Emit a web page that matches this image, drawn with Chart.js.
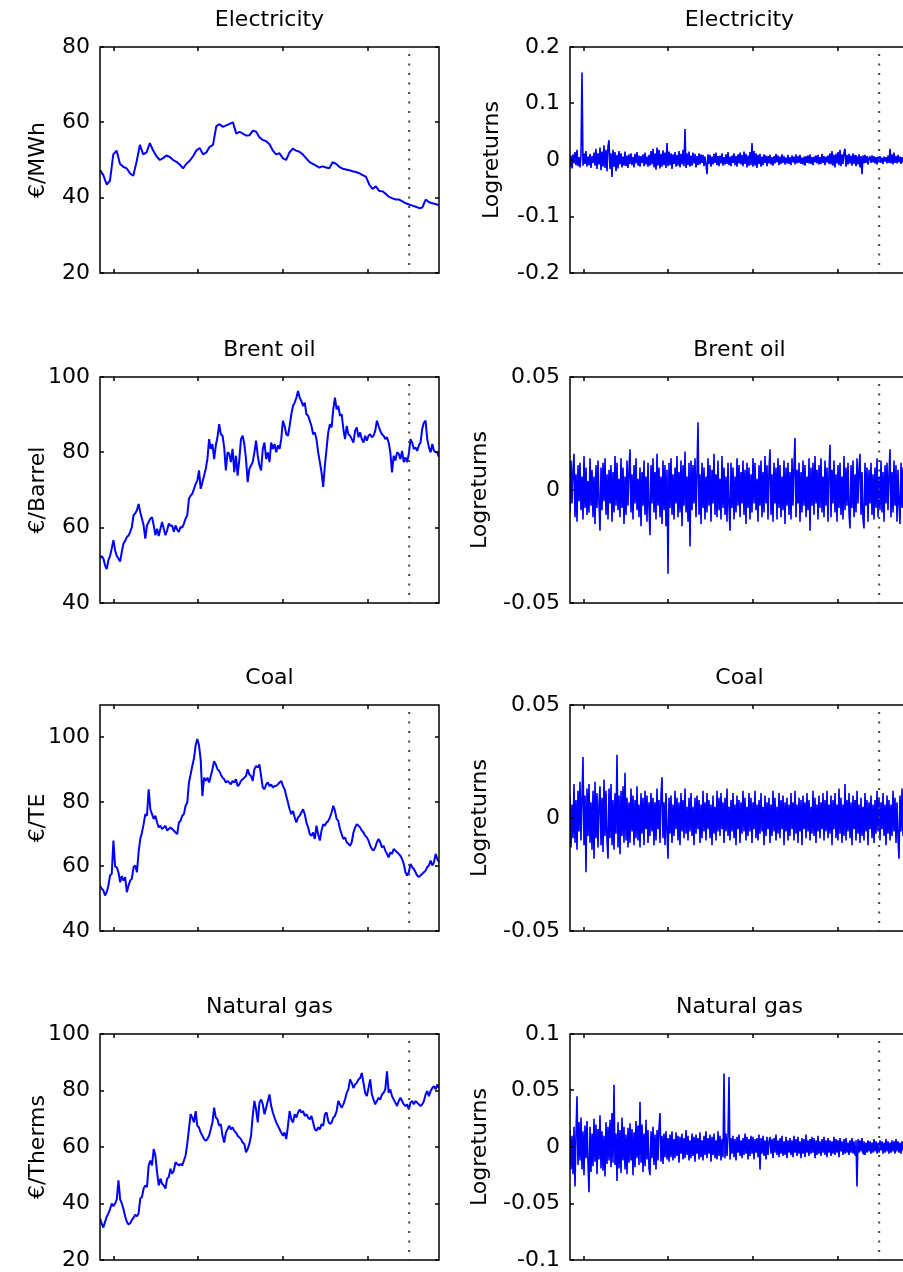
<!DOCTYPE html>
<html><head><meta charset="utf-8">
<script src="https://cdn.jsdelivr.net/npm/chart.js@4.4.1/dist/chart.umd.min.js"></script>
<style>
html,body{margin:0;padding:0;background:#fff;overflow:hidden;width:903px;height:1272px;}
.p{position:absolute;}
</style></head><body>
<script>
// ---------------- data ----------------
const xMin = 0, xMax = 1000;           // observation index range
const xTicks = [42, 290, 540, 790];    // unlabeled x tick positions
const splitT = 912;                    // in-sample / out-of-sample split (dotted line)

const titles = ['Electricity', 'Brent oil', 'Coal', 'Natural gas'];
const priceUnits = ['€/MWh', '€/Barrel', '€/TE', '€/Therms'];
const returnsLabel = 'Logreturns';

const elecPrice = [47.3,46.0,43.5,44.5,51.5,52.5,49.0,48.2,47.8,46.5,45.8,49.5,54.0,51.5,52.0,54.5,52.5,51.0,50.0,50.5,51.2,50.8,50.0,49.5,48.8,47.8,49.0,49.8,51.0,52.5,53.2,51.5,52.0,53.5,54.0,59.0,59.5,58.8,59.2,59.6,60.0,57.0,57.5,57.0,56.5,56.6,57.8,57.5,56.0,55.3,55.0,54.2,52.5,51.5,51.8,50.5,50.0,52.0,53.0,52.5,52.2,51.5,50.5,49.5,49.0,48.5,48.0,48.3,48.0,47.8,49.4,49.0,48.2,47.7,47.5,47.3,47.0,46.8,46.5,46.0,45.6,43.5,42.3,43.0,41.8,41.7,41.0,40.2,39.8,39.5,39.5,39.0,38.5,38.2,37.9,37.6,37.2,37.4,39.5,38.8,38.5,38.3,38.0];

const brentPrice = [51.8,52.5,51.8,50.0,49.0,51.4,52.5,54.5,56.7,54.0,52.5,51.8,51.0,53.6,55.8,56.5,57.5,57.9,58.9,60.2,63.3,63.8,64.6,66.3,64.1,62.4,60.6,57.1,60.6,61.5,62.4,62.8,60.6,58.0,59.7,57.8,59.7,61.5,59.7,58.0,59.3,61.1,60.5,60.6,58.9,60.6,59.5,58.9,60.2,60.0,61.1,62.4,63.3,67.7,68.5,69.0,70.3,71.6,72.5,75.2,70.3,72.0,73.8,75.6,78.2,83.5,80.9,82.2,78.2,81.8,84.0,87.5,84.8,84.4,81.3,75.2,80.0,79.6,77.4,80.9,74.7,79.1,73.8,78.0,83.5,84.4,82.2,78.2,72.1,75.6,76.5,77.4,80.0,83.1,79.1,76.5,75.2,80.9,82.6,78.2,80.0,77.4,82.6,80.9,82.2,80.0,81.8,80.9,83.5,88.4,87.0,84.8,84.4,87.0,90.1,92.3,93.2,94.5,96.3,94.5,93.6,92.3,93.2,90.1,89.7,88.4,87.0,84.8,85.3,83.5,80.0,77.4,74.7,70.8,76.5,80.9,85.3,87.5,86.6,91.4,94.5,91.4,92.3,89.7,90.1,86.2,83.5,87.0,84.8,84.4,83.5,82.6,85.7,86.6,84.0,85.3,83.5,82.6,84.4,83.1,84.4,84.8,84.0,84.4,85.7,88.4,87.0,85.7,84.8,84.4,83.5,84.0,82.6,80.0,74.7,79.1,77.8,80.0,79.6,78.2,80.4,77.4,78.7,77.4,79.6,83.5,82.6,80.9,81.3,80.4,81.8,82.6,86.2,87.9,88.4,83.5,81.3,80.0,82.2,80.4,80.0,80.0,78.7];

const coalPrice = [54.0,53.1,52.6,51.0,52.0,54.1,57.2,57.7,68.0,60.0,59.7,58.2,55.1,57.0,55.6,56.7,52.0,54.1,55.6,56.2,59.8,60.3,58.2,64.4,68.5,70.5,73.1,76.2,75.7,83.9,77.7,76.2,74.7,75.7,73.6,72.1,72.6,71.6,72.1,72.6,71.1,71.6,72.1,71.6,71.1,70.5,70.0,73.6,74.1,75.7,76.2,78.8,79.8,86.0,88.5,91.1,93.5,97.5,99.5,97.5,93.0,81.8,87.5,86.5,87.5,86.0,88.0,90.1,92.6,91.6,90.1,89.6,88.5,87.5,87.0,86.0,86.5,86.0,85.4,86.5,86.0,87.0,84.9,85.4,86.5,87.0,87.5,88.0,90.1,88.5,88.0,86.5,90.1,91.1,90.6,91.6,88.0,84.4,83.9,85.4,86.0,
84.9,85.4,84.4,84.9,85.0,85.4,86.0,86.5,84.9,83.9,81.8,79.8,77.7,76.2,77.2,75.2,73.6,75.2,75.7,76.7,77.7,76.2,73.6,72.1,70.0,69.5,70.5,68.5,72.6,70.0,68.0,71.1,73.1,72.6,73.6,74.1,75.2,76.7,78.8,77.2,74.7,74.1,71.6,70.0,68.5,69.0,67.5,67.0,66.4,67.5,70.5,72.1,73.1,72.6,72.1,71.1,70.5,69.5,69.0,68.0,66.4,65.4,64.9,65.9,67.5,68.5,67.5,65.9,66.4,64.9,63.9,62.8,64.4,63.9,65.4,64.9,64.4,63.9,63.3,62.3,60.8,58.2,57.2,58.2,60.8,59.8,59.2,58.2,57.2,56.7,57.2,57.7,58.2,58.7,59.8,60.3,61.8,60.3,61.3,63.9,62.3,61.3];

const gasPrice = [34.8,33.0,31.5,33.5,35.3,36.5,38.0,40.0,39.0,40.0,41.5,48.2,41.5,40.0,38.0,35.5,33.5,32.6,33.0,34.2,35.0,36.0,35.5,36.5,41.8,42.3,45.3,46.4,45.8,53.5,55.2,53.5,59.3,57.0,51.1,46.4,48.8,47.0,46.4,45.3,48.8,49.4,52.3,50.5,51.7,54.6,54.0,53.5,54.0,53.5,55.2,57.0,61.1,66.3,71.6,70.4,68.7,72.7,67.5,66.9,65.1,64.0,62.8,62.2,62.8,64.0,66.3,68.7,73.9,70.4,69.8,67.5,68.1,64.0,61.6,65.1,66.3,67.5,66.3,66.9,65.7,65.1,64.0,63.4,62.8,61.6,61.1,58.1,59.3,61.1,64.0,71.0,76.3,73.3,68.7,75.7,76.8,75.1,71.6,73.9,76.3,
78.6,74.5,72.2,70.4,68.7,67.5,66.3,65.1,64.0,65.1,62.8,67.5,72.7,69.8,68.7,71.6,70.4,72.2,73.3,72.2,72.7,71.0,71.6,70.4,69.8,71.0,68.7,66.3,65.7,66.9,66.3,68.1,67.5,71.6,72.2,69.2,68.1,68.7,70.4,71.0,72.7,76.3,75.1,73.9,75.1,76.8,79.2,80.4,83.9,82.7,80.9,82.1,82.7,83.9,84.4,86.2,82.7,79.2,78.0,80.9,83.9,78.6,76.8,75.1,76.3,77.4,76.8,78.6,79.2,80.4,86.8,79.2,80.4,78.0,76.8,75.7,74.5,76.3,77.4,76.3,75.1,74.5,75.1,73.3,75.7,76.3,75.1,76.3,75.7,75.1,74.5,75.1,76.3,78.6,79.8,78.0,79.8,80.9,81.5,80.4,82.1,80.9];

const elecRet = [
-0.012,0.008,-0.015,0.010,-0.006,0.014,-0.009,0.018,-0.011,0.005,-0.013,0.009,0.155,-0.010,0.012,-0.007,0.016,-0.012,0.006,-0.009,
0.011,-0.014,0.007,-0.005,0.013,-0.010,0.020,-0.016,0.012,-0.008,0.022,-0.018,0.015,-0.012,0.026,-0.014,0.018,-0.020,0.024,0.035,
-0.016,0.012,-0.030,0.018,-0.012,0.014,-0.020,0.009,-0.015,0.016,-0.008,0.012,-0.013,0.006,-0.010,0.015,-0.011,0.008,-0.014,0.010,
-0.007,0.012,-0.009,0.005,-0.013,0.011,-0.006,0.014,-0.010,0.008,-0.012,0.007,-0.005,0.010,-0.011,0.013,-0.008,0.006,-0.012,0.009,
-0.010,0.016,-0.008,0.020,-0.013,0.012,-0.017,0.022,-0.010,0.018,-0.015,0.011,-0.012,0.017,-0.009,0.013,-0.014,0.030,-0.011,0.015,
-0.009,0.012,-0.016,0.010,-0.007,0.014,-0.012,0.009,-0.010,0.016,-0.013,0.011,-0.008,0.018,-0.011,0.055,-0.014,0.012,-0.009,0.015,
-0.012,0.008,-0.010,0.013,-0.006,0.011,-0.013,0.007,-0.009,0.012,-0.008,0.010,-0.005,0.009,-0.011,0.006,-0.008,-0.025,0.010,-0.007,
0.009,-0.012,0.006,-0.008,0.011,-0.005,0.013,-0.009,0.007,-0.011,0.008,-0.006,0.012,-0.010,0.005,-0.008,0.010,-0.007,0.014,-0.009,
0.006,-0.011,0.008,-0.005,0.012,-0.009,0.007,-0.012,0.010,-0.006,0.013,-0.008,0.009,-0.011,0.015,-0.007,0.011,-0.013,0.008,-0.010,
0.014,-0.009,0.030,-0.012,0.016,-0.010,0.012,-0.014,0.009,-0.007,0.011,-0.012,0.006,-0.009,0.010,-0.005,0.008,-0.011,0.007,-0.006,
0.009,-0.008,0.005,-0.010,0.007,-0.006,0.011,-0.004,0.008,-0.009,0.006,-0.007,0.010,-0.005,0.007,-0.008,0.004,-0.006,0.009,-0.007,
0.005,-0.009,0.008,-0.004,0.006,-0.008,0.010,-0.006,0.007,-0.005,0.009,-0.007,0.004,-0.008,0.006,-0.010,0.007,-0.005,0.008,-0.006,
0.010,-0.007,0.005,-0.009,0.006,-0.004,0.008,-0.006,0.009,-0.008,0.005,-0.007,0.011,-0.005,0.007,-0.009,0.006,-0.004,0.008,-0.007,
0.012,-0.008,0.016,-0.010,0.009,-0.013,0.011,-0.006,0.014,-0.009,0.018,-0.011,0.010,-0.007,0.013,0.020,-0.012,0.009,-0.008,0.011,
-0.006,0.008,-0.010,0.012,-0.007,0.009,-0.011,0.006,-0.008,0.010,-0.013,0.007,-0.025,0.008,-0.006,0.009,-0.005,0.007,-0.008,0.004,
0.006,-0.005,0.008,-0.004,0.007,-0.006,0.005,-0.008,0.006,-0.004,0.007,-0.005,0.004,-0.007,0.006,-0.003,0.005,-0.006,0.008,-0.005,
0.020,-0.006,0.010,-0.008,0.013,-0.005,0.007,-0.006,0.009,-0.004,0.006,-0.007,0.005,-0.004,0.006,-0.005,0.007,-0.006,0.004,-0.005];

const brentRet = [
-0.010,0.013,-0.006,0.009,0.016,-0.012,0.007,-0.014,0.011,-0.005,0.012,-0.009,0.006,-0.013,0.015,-0.008,0.010,-0.011,0.004,-0.010,
0.014,-0.007,0.009,-0.012,0.006,-0.015,0.011,-0.008,0.013,-0.006,-0.018,0.010,-0.009,0.012,-0.005,0.014,-0.011,0.007,-0.013,0.009,
-0.006,0.011,-0.014,0.008,-0.010,0.015,-0.007,0.012,-0.009,0.005,-0.012,0.014,-0.008,0.010,-0.015,0.006,-0.011,0.013,-0.007,0.009,
0.018,-0.010,0.007,-0.013,0.011,-0.006,0.014,-0.009,0.005,-0.012,0.010,-0.016,0.008,-0.007,0.013,-0.011,0.006,-0.014,0.012,-0.008,
-0.020,0.011,-0.006,0.014,-0.010,0.008,-0.013,0.016,-0.007,0.010,-0.012,0.006,-0.015,0.013,-0.009,0.011,-0.016,0.009,-0.037,0.012,
-0.008,0.014,-0.011,0.007,-0.013,0.010,-0.006,0.015,-0.012,0.008,-0.010,0.013,-0.016,0.011,-0.007,0.017,-0.010,0.006,-0.014,0.012,
-0.025,0.013,-0.009,0.011,-0.006,0.014,-0.012,0.008,0.030,-0.011,0.007,-0.015,0.012,-0.008,0.010,-0.013,0.006,-0.010,0.014,-0.007,
0.011,-0.014,0.009,-0.006,0.016,-0.011,0.007,-0.012,0.013,-0.009,0.005,-0.013,0.015,-0.008,0.010,-0.011,0.006,-0.014,0.012,-0.007,
-0.018,0.012,-0.008,0.010,-0.013,0.006,-0.010,0.014,-0.007,0.011,-0.012,0.008,-0.006,0.013,-0.011,0.009,-0.015,0.012,-0.008,0.010,
-0.013,0.007,-0.010,0.014,-0.006,0.012,-0.009,0.005,-0.014,0.011,-0.007,0.013,-0.012,0.008,-0.010,0.015,-0.006,0.011,-0.013,0.009,
0.018,-0.011,0.007,-0.014,0.012,-0.006,0.010,-0.013,0.014,-0.008,0.011,-0.012,0.006,-0.009,0.013,-0.015,0.010,-0.007,0.012,-0.011,
0.008,-0.013,0.014,-0.007,0.011,0.023,-0.012,0.009,-0.006,0.012,-0.014,0.008,-0.010,0.013,-0.007,0.011,-0.012,0.006,-0.009,0.014,
-0.018,0.010,-0.007,0.012,-0.011,0.015,-0.006,0.009,-0.013,0.011,-0.008,0.014,-0.010,0.006,-0.012,0.013,-0.007,0.010,-0.014,0.008,
0.020,-0.012,0.009,-0.006,0.013,-0.010,0.007,-0.014,0.011,-0.008,0.012,-0.011,0.006,-0.013,0.015,-0.009,0.010,-0.007,0.012,-0.010,
-0.017,0.011,-0.008,0.013,-0.012,0.007,-0.010,0.014,-0.006,0.009,0.016,-0.011,0.008,-0.013,-0.017,0.012,-0.007,0.010,-0.014,0.009,
-0.006,0.012,-0.011,0.007,-0.013,0.010,-0.008,0.014,-0.012,0.006,-0.009,0.013,-0.010,0.008,-0.014,0.011,-0.006,0.012,-0.009,0.007,
0.018,-0.012,0.008,-0.010,0.013,-0.007,0.011,-0.014,0.009,-0.006,-0.015,0.012,-0.008,0.010,-0.013,0.007,-0.011,0.014,-0.006,0.009];

const coalRet = [
0.010,-0.013,0.006,-0.009,0.015,-0.011,0.008,-0.014,0.012,-0.006,0.016,-0.010,0.009,0.027,-0.012,0.010,-0.024,0.013,-0.008,0.015,
-0.011,0.007,-0.014,0.012,-0.018,0.016,-0.009,0.011,-0.013,0.006,0.014,-0.012,0.009,-0.015,0.017,-0.008,0.012,-0.010,-0.018,0.013,
-0.009,0.015,-0.012,0.008,-0.014,0.011,-0.007,0.028,-0.013,0.010,-0.016,0.012,-0.008,0.014,-0.011,0.020,-0.010,0.009,-0.013,0.007,
-0.011,0.013,-0.006,0.010,-0.012,0.008,-0.009,0.014,-0.010,0.006,-0.013,0.011,-0.007,0.009,-0.012,0.012,-0.005,0.010,-0.011,0.007,
-0.008,0.011,-0.006,0.009,-0.012,0.007,-0.010,0.013,-0.005,0.008,-0.011,0.010,0.018,-0.009,0.007,-0.012,0.011,-0.006,-0.018,0.009,
-0.007,0.010,-0.011,0.006,-0.008,0.012,-0.005,0.009,-0.010,0.007,-0.012,0.011,-0.006,0.008,-0.009,0.013,-0.007,0.005,-0.010,0.009,
-0.006,0.011,-0.008,0.005,-0.012,0.009,-0.007,0.010,-0.005,0.008,-0.011,0.006,-0.009,0.012,-0.006,0.007,-0.010,0.011,-0.005,0.008,
-0.009,0.006,-0.012,0.010,-0.007,0.005,-0.010,0.012,-0.006,0.009,-0.008,0.011,-0.005,0.007,-0.011,0.009,-0.006,0.013,-0.008,0.005,
-0.010,0.008,-0.006,0.011,-0.009,0.006,-0.012,0.010,-0.005,0.008,-0.011,0.007,-0.007,0.012,-0.006,0.009,-0.010,0.005,-0.008,0.011,
-0.006,0.009,-0.011,0.007,-0.005,0.012,-0.009,0.006,-0.010,0.008,-0.007,0.011,-0.006,0.005,-0.012,0.010,-0.008,0.007,-0.005,0.009,
-0.011,0.006,-0.008,0.012,-0.006,0.009,-0.010,0.005,-0.007,0.011,-0.009,0.008,-0.005,0.010,-0.012,0.007,-0.006,0.009,-0.010,0.006,
-0.008,0.011,-0.005,0.007,-0.010,0.012,-0.007,0.006,-0.011,0.009,-0.006,0.008,-0.012,0.010,-0.005,0.007,-0.009,0.011,-0.006,0.008,
-0.010,0.005,-0.007,0.012,-0.008,0.009,-0.011,0.006,-0.006,0.010,-0.009,0.007,-0.005,0.011,-0.010,0.008,-0.006,0.012,-0.009,0.006,
-0.007,0.010,-0.012,0.008,-0.005,0.011,-0.009,0.006,-0.010,0.013,-0.007,0.009,-0.011,0.006,-0.008,0.015,-0.010,0.008,-0.006,0.011,
-0.009,0.007,-0.012,0.010,-0.005,0.008,-0.010,0.012,-0.007,0.006,-0.011,0.009,-0.008,0.005,-0.010,0.011,-0.006,0.008,-0.012,0.007,
-0.005,0.010,-0.009,0.006,-0.011,0.008,-0.007,0.012,-0.006,0.009,-0.010,0.007,-0.005,0.011,-0.008,0.006,-0.012,0.010,-0.007,0.008,
-0.010,0.006,-0.008,0.012,-0.006,0.009,-0.011,0.007,-0.009,-0.018,0.010,-0.006,0.013,-0.008,0.007,-0.011,0.009,-0.005,0.012,-0.008];

const gasRet = [
0.015,-0.020,0.010,-0.024,0.018,-0.035,0.012,0.045,-0.016,0.022,-0.012,0.026,-0.020,0.014,-0.025,0.019,-0.010,0.023,-0.015,-0.040,
0.018,-0.022,0.012,-0.017,0.025,-0.013,0.020,-0.024,0.016,-0.011,0.028,-0.019,0.014,-0.021,0.010,-0.026,0.022,-0.015,0.018,-0.012,
0.024,-0.018,0.030,-0.014,0.055,-0.016,0.012,-0.030,0.022,-0.019,0.015,-0.023,0.026,-0.012,0.018,-0.020,0.011,-0.024,0.017,-0.014,
0.021,-0.012,0.016,-0.025,0.013,-0.018,0.023,-0.010,0.019,-0.016,0.040,-0.014,0.020,-0.022,0.012,-0.017,0.024,-0.011,0.015,-0.019,
-0.025,0.014,-0.010,0.018,-0.016,0.011,-0.020,0.015,-0.012,0.017,0.030,-0.013,0.010,-0.015,0.012,-0.009,0.014,-0.011,0.008,-0.013,
0.011,-0.009,0.014,-0.012,0.007,-0.010,0.013,-0.008,0.010,-0.014,0.009,-0.006,0.012,-0.011,0.008,-0.010,0.015,-0.007,0.010,-0.012,
0.006,-0.010,0.012,-0.008,0.009,-0.013,0.011,-0.006,0.008,-0.011,0.013,-0.009,0.006,-0.012,0.010,-0.007,0.014,-0.010,0.008,-0.006,
0.011,-0.013,0.009,-0.007,0.012,-0.010,0.006,-0.011,0.014,-0.008,0.010,-0.012,0.007,-0.009,0.065,-0.010,0.012,-0.008,0.009,0.062,
-0.011,0.008,-0.006,0.010,-0.009,0.007,-0.012,0.009,-0.005,0.011,-0.008,0.006,-0.010,0.008,-0.007,0.012,-0.006,0.009,-0.011,0.007,
-0.008,0.010,-0.006,0.009,-0.011,0.007,-0.005,0.008,-0.009,0.011,-0.020,0.008,-0.006,0.010,-0.008,0.006,-0.011,0.009,-0.007,0.005,
0.009,-0.006,0.007,-0.010,0.008,-0.005,0.011,-0.007,0.006,-0.009,0.008,-0.006,0.010,-0.008,0.005,-0.007,0.009,-0.010,0.006,-0.005,
0.008,-0.007,0.006,-0.009,0.010,-0.005,0.007,-0.008,0.009,-0.006,0.005,-0.010,0.008,-0.006,0.007,-0.009,0.011,-0.005,0.006,-0.008,
0.007,-0.006,0.009,-0.005,0.008,-0.010,0.006,-0.007,0.010,-0.006,0.005,-0.008,0.007,-0.005,0.009,-0.007,0.006,-0.009,0.008,-0.005,
0.006,-0.008,0.005,-0.006,0.009,-0.007,0.007,-0.005,0.006,-0.009,0.008,-0.004,0.005,-0.007,0.007,-0.006,0.008,-0.005,0.004,-0.007,
0.006,-0.005,0.008,-0.006,0.005,-0.007,0.006,-0.035,0.007,-0.005,0.006,-0.004,0.008,-0.006,0.005,-0.007,0.004,-0.005,0.006,-0.004,
0.005,-0.006,0.004,-0.005,0.007,-0.004,0.005,-0.006,0.004,-0.005,0.006,-0.003,0.005,-0.006,0.004,-0.005,0.007,-0.004,0.005,-0.006,
0.004,-0.005,0.006,-0.004,0.005,-0.006,0.007,-0.004,0.005,-0.005,0.004,-0.006,0.005,-0.003,0.006,-0.005,0.004,-0.006,0.005,-0.004];

const priceSeries = [elecPrice, brentPrice, coalPrice, gasPrice];
const returnSeries = [elecRet, brentRet, coalRet, gasRet];

const priceRanges = [[20, 80], [40, 100], [40, 110], [20, 100]];
const priceTicks  = [[20, 40, 60, 80], [40, 60, 80, 100], [40, 60, 80, 100], [20, 40, 60, 80, 100]];
const priceTickLabels = [['20','40','60','80'], ['40','60','80','100'], ['40','60','80','100'], ['20','40','60','80','100']];

const returnRanges = [[-0.2, 0.2], [-0.05, 0.05], [-0.05, 0.05], [-0.1, 0.1]];
const returnTicks  = [[-0.2, -0.1, 0, 0.1, 0.2], [-0.05, 0, 0.05], [-0.05, 0, 0.05], [-0.1, -0.05, 0, 0.05, 0.1]];
const returnTickLabels = [['-0.2','-0.1','0','0.1','0.2'], ['-0.05','0','0.05'], ['-0.05','0','0.05'], ['-0.1','-0.05','0','0.05','0.1']];

// ---------------- layout / style ----------------
const FONT = 'DejaVu Sans';
const rowTop = [0, 330, 658, 987];
const colLeft = [0, 450];
const canvasW = [450, 470];
const canvasH = 329;
const yAxisW = [100, 120];
const yTitlePad = [[24.8, 24.8, 24.8, 24.8], [28.8, 17.5, 17.5, 17.5]];

const boxTicks = {
  id: 'boxTicks',
  afterDatasetsDraw(chart) {
    const { ctx, chartArea: a, scales: { x, y } } = chart;
    const L = 4;
    ctx.save();
    ctx.strokeStyle = '#000';
    ctx.lineWidth = 1.5;
    ctx.strokeRect(a.left, a.top, a.right - a.left, a.bottom - a.top);
    ctx.beginPath();
    x.ticks.forEach(t => {
      const px = Math.round(x.getPixelForValue(t.value));
      ctx.moveTo(px, a.bottom); ctx.lineTo(px, a.bottom - L);
      ctx.moveTo(px, a.top); ctx.lineTo(px, a.top + L);
    });
    y.ticks.forEach(t => {
      const py = Math.round(y.getPixelForValue(t.value));
      ctx.moveTo(a.left, py); ctx.lineTo(a.left + L, py);
      ctx.moveTo(a.right, py); ctx.lineTo(a.right - L, py);
    });
    ctx.stroke();
    ctx.restore();
  }
};

function toPoints(vals) {
  const n = vals.length;
  return vals.map((v, i) => ({ x: xMin + i * (xMax - xMin) / (n - 1), y: v }));
}

function makePanel(col, row, title, yLabel, vals, range, ticks, tickLabels, lw) {
  const c = document.createElement('canvas');
  c.className = 'p';
  c.width = canvasW[col]; c.height = canvasH;
  c.style.left = colLeft[col] + 'px';
  c.style.top = rowTop[row] + 'px';
  c.style.width = canvasW[col] + 'px';
  c.style.height = canvasH + 'px';
  document.body.appendChild(c);

  new Chart(c, {
    type: 'line',
    data: {
      datasets: [
        {
          data: [{ x: splitT, y: range[1] }, { x: splitT, y: range[0] }],
          borderColor: '#444', borderWidth: 2, borderDash: [2, 7.5], borderDashOffset: 2.5,
          pointRadius: 0, borderCapStyle: 'butt'
        },
        {
          data: toPoints(vals),
          borderColor: '#0000ff', borderWidth: lw, pointRadius: 0,
          tension: 0, borderJoinStyle: 'bevel'
        }
      ]
    },
    options: {
      responsive: false, animation: false, devicePixelRatio: 1,
      events: [],
      layout: { padding: { left: 0, right: 11, top: 0, bottom: 0 } },
      plugins: {
        legend: { display: false },
        tooltip: { enabled: false },
        title: {
          display: true, text: title, fullSize: false, color: '#000',
          font: { family: FONT, size: 22, weight: 'normal' },
          padding: { top: 7, bottom: 13.6 }
        }
      },
      scales: {
        x: {
          type: 'linear', min: xMin, max: xMax,
          grid: { display: false, drawTicks: false },
          border: { display: false },
          ticks: { display: false },
          afterBuildTicks: s => { s.ticks = xTicks.map(v => ({ value: v })); },
          afterFit: s => { s.height = 56; }
        },
        y: {
          type: 'linear', min: range[0], max: range[1],
          grid: { display: false, drawTicks: false },
          border: { display: false },
          ticks: {
            color: '#000', padding: 10, autoSkip: false,
            font: { family: FONT, size: 22 },
            callback: v => { const i = ticks.indexOf(v); return i >= 0 ? tickLabels[i] : ''; }
          },
          afterBuildTicks: s => { s.ticks = ticks.map(v => ({ value: v })); },
          afterFit: s => { s.width = yAxisW[col]; },
          title: {
            display: true, text: yLabel, color: '#000',
            font: { family: FONT, size: 22 },
            padding: { top: yTitlePad[col][row], bottom: 0 }
          }
        }
      }
    },
    plugins: [boxTicks]
  });
}

for (let r = 0; r < 4; r++) {
  makePanel(0, r, titles[r], priceUnits[r], priceSeries[r], priceRanges[r], priceTicks[r], priceTickLabels[r], 2);
  makePanel(1, r, titles[r], returnsLabel, returnSeries[r], returnRanges[r], returnTicks[r], returnTickLabels[r], 1.6);
}
</script>
</body></html>
